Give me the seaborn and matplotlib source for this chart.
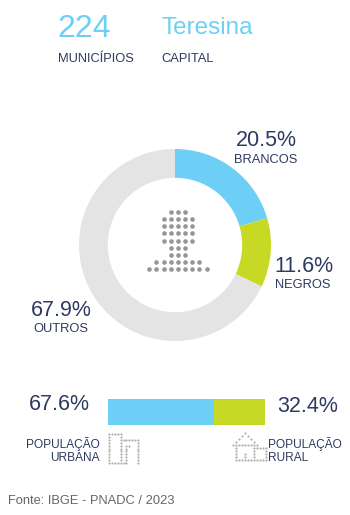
import matplotlib
matplotlib.use("Agg")
import matplotlib.pyplot as plt
import seaborn as sns

sns.set_theme(style="white")
plt.rcParams['font.family'] = ['Liberation Sans', 'DejaVu Sans']

W, H = 350, 515
BLUE = '#6dcff6'
GREEN = '#c7d925'
GREY = '#e4e4e4'
NAVY = '#2e3a5f'
DOT = '#969696'
DOT_LIGHT = '#b0b0b0'

race_labels = ['BRANCOS', 'NEGROS', 'OUTROS']
race_values = [20.5, 11.6, 67.9]
race_colors = [BLUE, GREEN, GREY]

pop_labels = ['POPULAÇÃO URBANA', 'POPULAÇÃO RURAL']
pop_values = [67.6, 32.4]

# dot icons, one string per row
person_icon = [
    "...XXX...",
    "..XXXXX..",
    "..XXXXX..",
    "..XXXXX..",
    "..XXXXX..",
    "...XXX...",
    "...XXX...",
    ".XXXXXXX.",
    "XXXXXXXXX",
]
building_icon = [
    "XXXXX......",
    "X...X......",
    "X...XXXXXXX",
    "X...X.....X",
    "X...X.XX..X",
    "X...X.X...X",
    "X...X.X...X",
    "X...X.X...X",
    "X...X.X...X",
    "X...X.X...X",
    "XXXXXXX...X",
]
house_icon = [
    "....X.......",
    "...X.X......",
    "..X...X.....",
    ".X.....X....",
    "XXXXXXXXX...",
    ".X.....XXXXX",
    ".X.....X...X",
    ".X..X..X...X",
    ".X..X..X...X",
    ".XXXXXXXXXXX",
]


def draw_icon(ax, rows, left, top, step, size, color):
    # positions are in pixels of the figure
    xs, ys = [], []
    for r, row in enumerate(rows):
        for c, ch in enumerate(row):
            if ch == 'X':
                xs.append(left + c * step)
                ys.append(top + r * step)
    ax.scatter(xs, ys, s=size, color=color, linewidths=0)


fig = plt.figure(figsize=(W / 100, H / 100), dpi=100)

# pixel canvas for text and icons
canvas = fig.add_axes([0, 0, 1, 1])
canvas.set_xlim(0, W)
canvas.set_ylim(H, 0)
canvas.axis('off')

# donut
pie_ax = fig.add_axes([(175 - 96) / W, 1 - (245 + 96) / H, 192 / W, 192 / H])
pie_ax.pie(race_values, colors=race_colors, startangle=90, counterclock=False, radius=1,
           wedgeprops={'width': 0.3, 'edgecolor': 'none'})
pie_ax.set_xlim(-1, 1)
pie_ax.set_ylim(-1, 1)

# stacked bar: the full bar behind, the urban share in front
bar_ax = fig.add_axes([108 / W, 1 - 425 / H, 157 / W, 26 / H])
sns.barplot(x=[sum(pop_values)], y=[pop_labels[1]], color=GREEN, saturation=1, width=1,
            orient='h', linewidth=0, ax=bar_ax)
sns.barplot(x=[pop_values[0]], y=[pop_labels[1]], color=BLUE, saturation=1, width=1,
            orient='h', linewidth=0, ax=bar_ax)
bar_ax.set_xlim(0, sum(pop_values))
bar_ax.axis('off')


def label(x, y, s, size=9.3, color=NAVY, ha='left'):
    canvas.text(x, y, s, fontsize=size, color=color, ha=ha, va='center')


label(57, 29, '224', 23, BLUE)
label(162, 28, 'Teresina', 17.5, BLUE)
label(58, 58.5, 'MUNICÍPIOS')
label(161.5, 58.5, 'CAPITAL')

label(266, 141, '20.5%', 15.5, ha='center')
label(266, 160, 'BRANCOS', ha='center')
label(304, 267, '11.6%', 15.5, ha='center')
label(303, 285, 'NEGROS', ha='center')
label(61, 311, '67.9%', 15.5, ha='center')
label(61, 329, 'OUTROS', ha='center')

label(29, 405, '67.6%', 15.5)
label(277, 407, '32.4%', 15.5)
label(100, 444, 'POPULAÇÃO', 8.6, ha='right')
label(100, 458, 'URBANA', 8.6, ha='right')
label(268, 444, 'POPULAÇÃO', 8.6)
label(268, 458, 'RURAL', 8.6)
label(8, 501, 'Fonte: IBGE - PNADC / 2023', 9.3, '#666666')

draw_icon(canvas, person_icon, 149.3, 212, 7.15, 11, DOT)
draw_icon(canvas, building_icon, 109, 434, 2.9, 2.5, DOT_LIGHT)
draw_icon(canvas, house_icon, 232.5, 433, 3.0, 2.5, DOT_LIGHT)

fig.savefig('out.png', dpi=100)
